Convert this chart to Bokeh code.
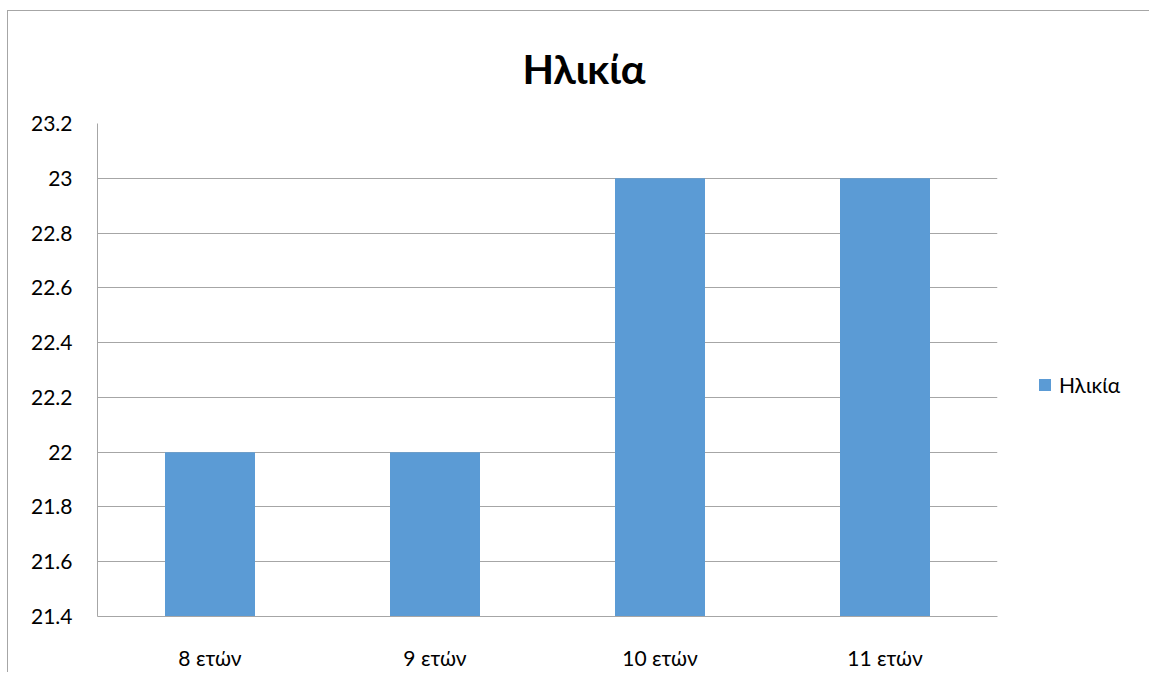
from bokeh.plotting import figure
from bokeh.models import ColumnDataSource, Legend, LegendItem, Range1d, FixedTicker, Title
from bokeh.embed import file_html
from bokeh.resources import INLINE

categories = ["8 ετών", "9 ετών", "10 ετών", "11 ετών"]
values = [22, 22, 23, 23]
series_name = "Ηλικία"
y_ticks = [21.4, 21.6, 21.8, 22.0, 22.2, 22.4, 22.6, 22.8, 23.0, 23.2]

FONT = "Lato"
BAR = "#5B9BD5"

src = ColumnDataSource(dict(cat=categories, val=values))

p = figure(x_range=categories, frame_width=900, frame_height=493, output_backend="svg",
           toolbar_location=None)
p.y_range = Range1d(21.4, 23.2)
p.min_border = 0
p.min_border_left = 89
p.min_border_right = 136
p.min_border_top = 112
p.min_border_bottom = 48

r = p.vbar(x="cat", top="val", bottom=21.4, width=0.4, source=src,
           fill_color=BAR, line_color=None)

t = Title(text="Ηλικία", text_font=FONT, text_font_size="41px", text_font_style="bold",
          align="left", vertical_align="middle", text_color="black", standoff=59, offset=425)
p.add_layout(t, "above")

p.outline_line_color = None
p.border_fill_color = "white"
p.background_fill_color = "white"

p.yaxis.ticker = FixedTicker(ticks=y_ticks)
p.yaxis.major_label_overrides = {21.4: "21.4", 21.6: "21.6", 21.8: "21.8", 22.0: "22", 22.2: "22.2",
                                 22.4: "22.4", 22.6: "22.6", 22.8: "22.8", 23.0: "23", 23.2: "23.2"}
for ax in (p.xaxis[0], p.yaxis[0]):
    ax.major_label_text_font = FONT
    ax.major_label_text_font_size = "21px"
    ax.major_label_text_color = "black"
    ax.major_tick_line_color = None
    ax.minor_tick_line_color = None
p.yaxis.axis_line_color = "#a6a6a6"
p.xaxis.axis_line_color = "#a6a6a6"
p.yaxis.major_label_standoff = 19
p.xaxis.major_label_standoff = 22
p.xgrid.grid_line_color = None
p.ygrid.grid_line_color = "#a6a6a6"
p.ygrid.grid_line_width = 1

legend = Legend(items=[LegendItem(label=series_name, renderers=[r])],
                location=(40, 219), glyph_width=15, glyph_height=15,
                label_standoff=7, label_text_font=FONT, label_text_font_size="21px",
                label_text_color="black", border_line_color=None,
                background_fill_alpha=0, padding=0, margin=0)
p.add_layout(legend, "right")

p.styles = {"margin-left": "7px", "margin-top": "10px",
            "border-left": "1px solid #a6a6a6", "border-top": "1px solid #a6a6a6"}

open("out.html", "w").write(file_html(p, INLINE))
